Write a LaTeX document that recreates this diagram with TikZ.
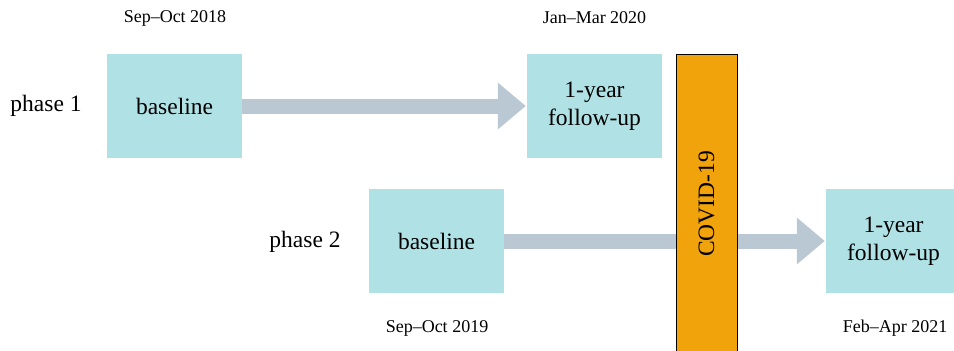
\documentclass[tikz,border=0pt]{standalone}
\usepackage{fontspec}
\setmainfont{Liberation Serif}
\usetikzlibrary{arrows.meta}
\definecolor{boxfill}{HTML}{B0E2E5}
\definecolor{arrowcol}{HTML}{BAC8D3}
\definecolor{covidcol}{HTML}{F0A30A}
\tikzset{
  stagebox/.style={fill=boxfill, draw=none, minimum width=135pt, minimum height=104pt, inner sep=0pt, align=center, font=\fontsize{23.5}{28}\selectfont},
  maintext/.style={inner sep=0pt, font=\fontsize{23.5}{28}\selectfont},
  datetext/.style={inner sep=0pt, font=\fontsize{18}{21}\selectfont},
  bigarrow/.style={draw=arrowcol, line width=15pt, -{Triangle[length=28pt 0 0, width=45pt 0 0]}, shorten >=1pt},
}
\begin{document}
\begin{tikzpicture}[x=1pt, y=-1pt]
\clip (0,0) rectangle (954,351);
\fill[white] (0,0) rectangle (954,351);
% phase 1
\node[maintext] (p1) at (46,106) {phase 1};
\node[stagebox] (b1) at (174.5,106) {baseline};
\node[stagebox] (f1) at (594.5,106) {1-year\\follow-up};
\node[datetext] (d1) at (175,18) {Sep–Oct 2018};
\node[datetext] (d2) at (594.5,18) {Jan–Mar 2020};
% phase 2
\node[maintext] (p2) at (305,242) {phase 2};
\node[stagebox] (b2) at (436.5,241) {baseline};
\node[stagebox] (f2) at (893.5,241) {1-year\\follow-up};
\node[datetext] (d3) at (437,328) {Sep–Oct 2019};
\node[datetext] (d4) at (895,328) {Feb–Apr 2021};
% arrows
\draw[bigarrow] (b1.east) -- (f1.west);
\draw[bigarrow] (b2.east) -- (f2.west);
% COVID bar
\node[draw=black, line width=1pt, fill=covidcol, minimum width=61pt, minimum height=310pt, inner sep=0pt, anchor=north] (cv) at (706.5,54) {};
\node[maintext, rotate=90] (cvt) at (706.5,204) {COVID-19};
\end{tikzpicture}
\end{document}
